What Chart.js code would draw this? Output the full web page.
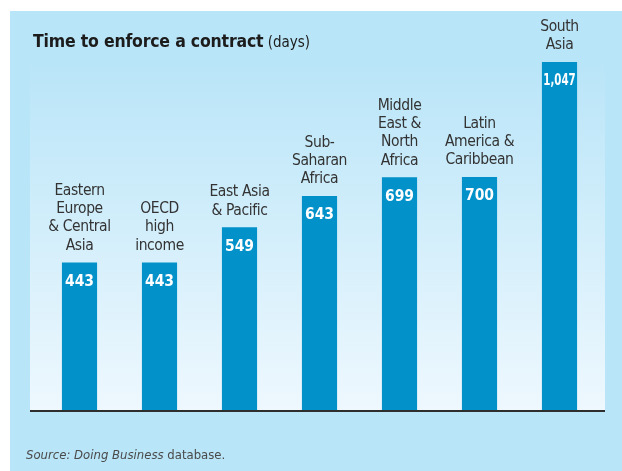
<!DOCTYPE html>
<html>
<head>
<meta charset="utf-8">
<script src="https://cdn.jsdelivr.net/npm/chart.js@4.4.0/dist/chart.umd.min.js"></script>
<style>
  html, body { margin: 0; padding: 0; background: #ffffff; }
  canvas { display: block; }
</style>
</head>
<body>
<canvas id="contract-chart" width="622" height="471"></canvas>
<script>
// Days needed to enforce a contract, by region
var regions = [
  ['Eastern', 'Europe', '& Central', 'Asia'],
  ['OECD', 'high', 'income'],
  ['East Asia', '& Pacific'],
  ['Sub-', 'Saharan', 'Africa'],
  ['Middle', 'East &', 'North', 'Africa'],
  ['Latin', 'America &', 'Caribbean'],
  ['South', 'Asia']
]
var days = [443, 443, 549, 643, 699, 700, 1047]

var FONT = "'Liberation Sans Narrow', 'DejaVu Sans Condensed', 'Arial Narrow', sans-serif"
var PANEL = '#b9e5f8'
var BAR = '#0391c9'

// panel, gradient plot background, baseline and all the text
var decorations = {
  id: 'decorations',
  beforeDraw(chart) {
    var ctx = chart.ctx
    var area = chart.chartArea
    ctx.save()
    ctx.fillStyle = '#ffffff'
    ctx.fillRect(0, 0, chart.width, chart.height)
    ctx.fillStyle = PANEL
    ctx.fillRect(10, 11, chart.width - 10, chart.height - 11)

    var grad = ctx.createLinearGradient(0, area.top, 0, area.bottom)
    grad.addColorStop(0, PANEL)
    grad.addColorStop(1, '#eef8fe')
    ctx.fillStyle = grad
    ctx.fillRect(area.left - 9.5, area.top, area.right - area.left + 15, area.bottom - area.top)
    ctx.restore()
  },
  afterDatasetsDraw(chart) {
    var ctx = chart.ctx
    var area = chart.chartArea
    var meta = chart.getDatasetMeta(0)
    ctx.save()

    // baseline
    ctx.fillStyle = '#2e2e2e'
    ctx.fillRect(area.left - 9.5, area.bottom, area.right - area.left + 15, 2)

    ctx.textAlign = 'center'
    _each(meta.data, function (bar, i) {
      // value inside the bar, squeezed to the bar width when needed
      ctx.fillStyle = '#ffffff'
      ctx.font = 'bold 15.5px ' + FONT
      ctx.letterSpacing = '0px'
      ctx.textBaseline = 'middle'
      ctx.fillText(days[i].toLocaleString('en-US'), bar.x, bar.y + 19, bar.width - 2)

      // region name stacked above the bar
      var lines = regions[i]
      ctx.fillStyle = '#333333'
      ctx.font = '15.5px ' + FONT
      ctx.letterSpacing = '-0.4px'
      ctx.textBaseline = 'alphabetic'
      for (var k = 0; k < lines.length; k++) {
        var y = bar.y - 13 - (lines.length - 1 - k) * 18.3
        ctx.fillText(lines[k], bar.x, y)
      }
    })

    // title
    ctx.textAlign = 'left'
    ctx.fillStyle = '#1c1c1c'
    ctx.font = 'bold 17.5px ' + FONT
    ctx.letterSpacing = '-0.2px'
    var title = 'Time to enforce a contract'
    ctx.fillText(title, 33, 47)
    var w = ctx.measureText(title).width
    ctx.font = '15px ' + FONT
    ctx.letterSpacing = '0px'
    ctx.fillText(' (days)', 33 + w, 47)

    // source note
    ctx.fillStyle = '#4a4a4a'
    ctx.font = 'italic 13px ' + FONT
    var src = 'Source: Doing Business'
    ctx.fillText(src, 26, 459)
    var sw = ctx.measureText(src).width
    ctx.font = '13px ' + FONT
    ctx.fillText(' database.', 26 + sw, 459)

    ctx.restore()
  }
}

function _each(list, fn) {
  for (var i = 0; i < list.length; i++) fn(list[i], i)
}

new Chart(document.getElementById('contract-chart'), {
  type: 'bar',
  data: {
    labels: regions.map(function (r) { return r.join(' ') }),
    datasets: [{
      data: days,
      backgroundColor: BAR,
      borderWidth: 0,
      barThickness: 34.5
    }]
  },
  options: {
    responsive: false,
    animation: false,
    layout: {
      padding: { top: 62, bottom: 61, left: 39.5, right: 22.5 }
    },
    plugins: {
      legend: { display: false },
      tooltip: { enabled: false }
    },
    scales: {
      x: { display: false, offset: true },
      y: { display: false, min: 0, max: 1047 }
    }
  },
  plugins: [decorations]
});
</script>
</body>
</html>
